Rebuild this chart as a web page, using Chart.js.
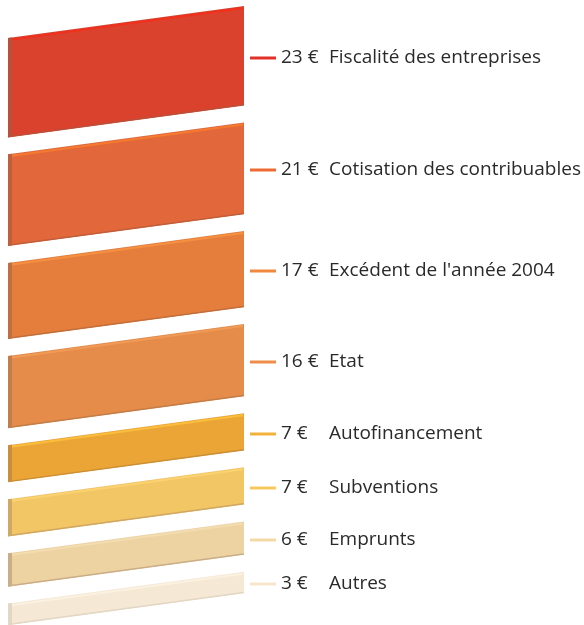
<!DOCTYPE html>
<html>
<head>
<meta charset="utf-8">
<script src="https://cdn.jsdelivr.net/npm/chart.js@4"></script>
<style>
  html, body { margin: 0; padding: 0; background: #ffffff; }
  #wrap { width: 584px; height: 625px; position: relative; }
</style>
</head>
<body>
<div id="wrap"><canvas id="c"></canvas></div>
<script>
// ---- data ----
const categories = [
  'Fiscalité des entreprises',
  'Cotisation des contribuables',
  "Excédent de l'année 2004",
  'Etat',
  'Autofinancement',
  'Subventions',
  'Emprunts',
  'Autres'
];
const values = [23, 21, 17, 16, 7, 7, 6, 3];
const currencySymbol = '€';

// ---- styles ----
const palette = ['#da422d', '#e2683b', '#e57e3d', '#e58c4a', '#eba536', '#f2c565', '#edd3a2', '#f5e9d5'];
const sideColors = ['#b9503a', '#bf5f3c', '#c0703e', '#c27e4a', '#c98f3a', '#cfa865', '#c9ae88', '#e2d6c4'];
const topColors = ['#f0301c', '#f57a30', '#f59040', '#f09a55', '#fbbd3c', '#fbd270', '#f3dcb0', '#fbf1e0'];
const lineColors = ['#e2302a', '#ee6a35', '#f0883f', '#ef8d48', '#f2b23a', '#f6c860', '#f3d9a5', '#f6e6cc'];

// ---- layout constants (in value units) ----
const THICK = 2.5;  // extra block thickness
const GAP = 4.4;    // gap between blocks
const SLANT = 8.2;  // rise of the right edge

const tops = [], bottoms = [];
let acc = 0;
values.forEach((v, i) => {
  tops.push(acc);
  bottoms.push(acc + v + THICK);
  acc += v + THICK + (i < values.length - 1 ? GAP : 0);
});
const total = acc;

const datasets = [];
values.forEach((v, i) => {
  datasets.push({
    data: [{x: 0, y: tops[i]}, {x: 1, y: tops[i] - SLANT}],
    borderWidth: 0, pointRadius: 0, fill: false, borderColor: 'transparent'
  });
  datasets.push({
    data: [{x: 0, y: bottoms[i]}, {x: 1, y: bottoms[i] - SLANT}],
    borderWidth: 0, pointRadius: 0, fill: '-1', borderColor: 'transparent',
    backgroundColor: palette[i]
  });
});

const decor = {
  id: 'decor',
  afterDatasetsDraw(chart) {
    const ctx = chart.ctx;
    const xs = chart.scales.x, ys = chart.scales.y;
    const xl = xs.getPixelForValue(0), xr = xs.getPixelForValue(1);
    values.forEach((v, i) => {
      const tl = ys.getPixelForValue(tops[i]);
      const tr = ys.getPixelForValue(tops[i] - SLANT);
      const bl = ys.getPixelForValue(bottoms[i]);
      const br = ys.getPixelForValue(bottoms[i] - SLANT);
      const k = (tr - tl) / (xr - xl);
      ctx.save();
      // left side face
      ctx.fillStyle = sideColors[i];
      ctx.beginPath();
      ctx.moveTo(xl, tl);
      ctx.lineTo(xl + 4, tl + k * 4);
      ctx.lineTo(xl + 4, bl + k * 4);
      ctx.lineTo(xl, bl);
      ctx.closePath();
      ctx.fill();
      // top bevel
      ctx.strokeStyle = topColors[i];
      ctx.lineWidth = 2;
      ctx.beginPath();
      ctx.moveTo(xl + 4, tl + k * 4 + 2);
      ctx.lineTo(xr - 1, tr + 2);
      ctx.stroke();
      // bottom shadow
      ctx.strokeStyle = sideColors[i];
      ctx.lineWidth = 1.5;
      ctx.beginPath();
      ctx.moveTo(xl, bl - 0.5);
      ctx.lineTo(xr, br - 0.5);
      ctx.stroke();
      // connector + labels
      const ym = Math.round((tr + br) / 2) + 2;
      ctx.strokeStyle = lineColors[i];
      ctx.lineWidth = 3;
      ctx.beginPath();
      ctx.moveTo(xr + 6, ym);
      ctx.lineTo(xr + 32, ym);
      ctx.stroke();
      ctx.fillStyle = '#2a2a2a';
      ctx.font = '19px "Open Sans", sans-serif';
      ctx.textBaseline = 'middle';
      ctx.textAlign = 'left';
      ctx.fillText(values[i] + ' ' + currencySymbol, xr + 37, ym);
      ctx.fillText(categories[i], xr + 85, ym);
      ctx.restore();
    });
  }
};

new Chart(document.getElementById('c'), {
  type: 'line',
  data: { datasets },
  options: {
    responsive: true,
    maintainAspectRatio: false,
    animation: false,
    layout: { padding: { left: 8, right: 340, top: 6, bottom: 0 } },
    plugins: { legend: { display: false }, tooltip: { enabled: false }, filler: { propagate: false } },
    scales: {
      x: { type: 'linear', min: 0, max: 1, display: false },
      y: { type: 'linear', min: -SLANT, max: total, reverse: true, display: false }
    }
  },
  plugins: [decor]
});
</script>
</body>
</html>
